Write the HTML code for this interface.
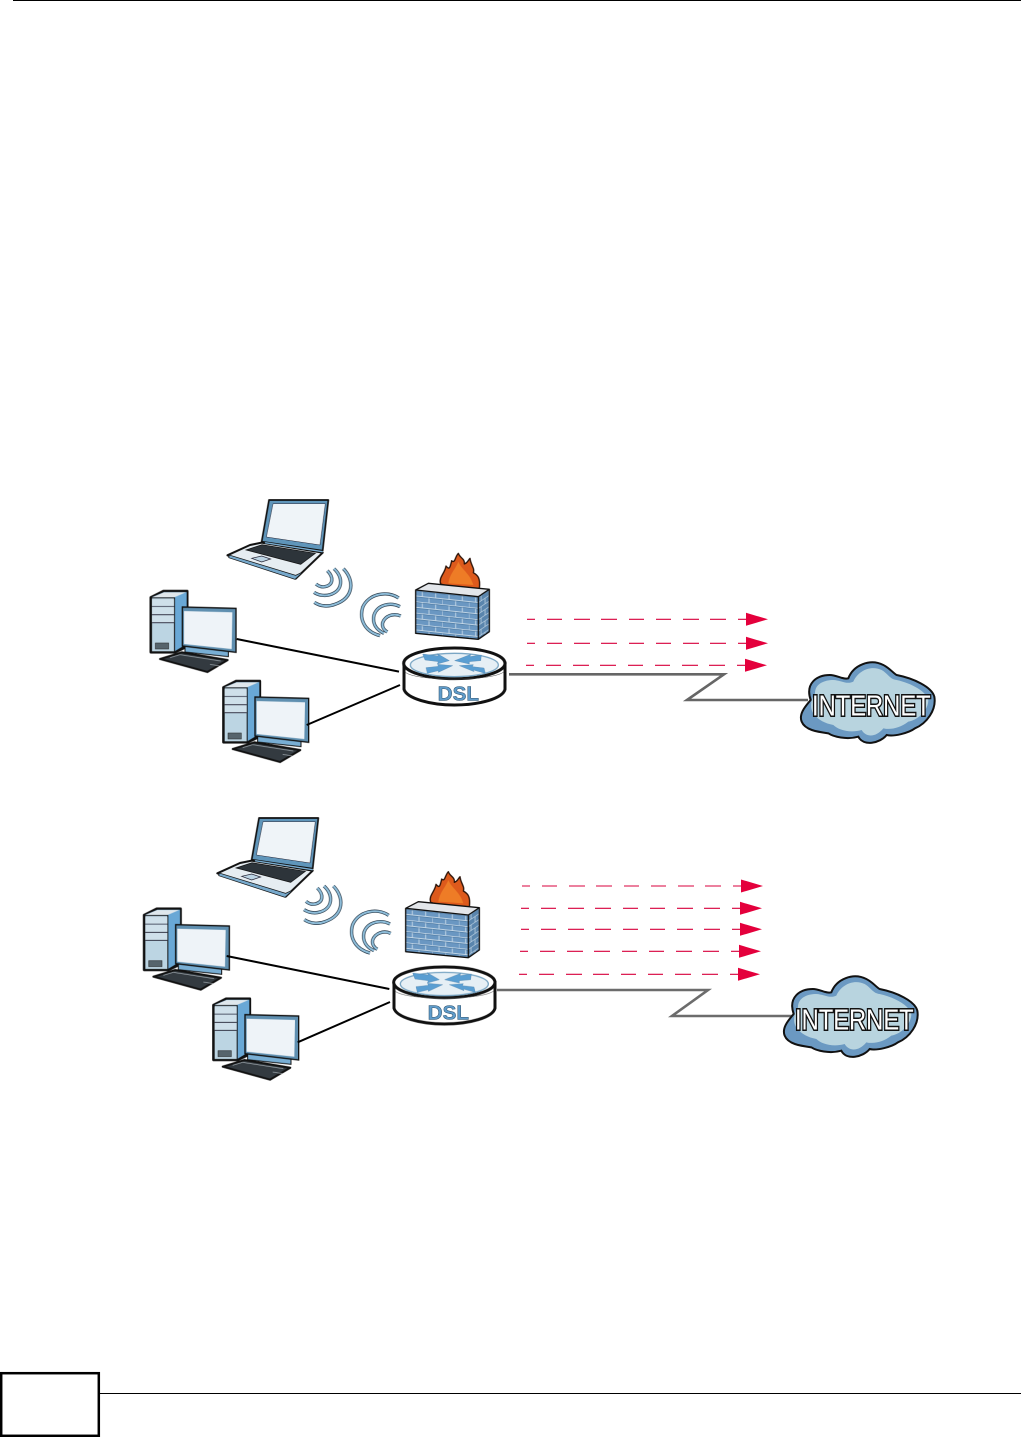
<!DOCTYPE html>
<html><head><meta charset="utf-8"><style>
html,body{margin:0;padding:0;background:#fff}
svg{display:block}
.soft{filter:blur(.45px)}
</style></head><body>
<svg xmlns="http://www.w3.org/2000/svg" width="1021" height="1437" viewBox="0 0 1021 1437" font-family="'Liberation Sans',sans-serif">
<defs>
<pattern id="bf" width="80" height="34" patternUnits="userSpaceOnUse" patternTransform="translate(857 300) skewY(6)">
<rect width="80" height="34" fill="#6a97c2"/>
<path d="M0 1H80M0 18H80M20 1V18M60 1V18M0 18V34M40 18V34" stroke="#cbdcea" stroke-width="2.6" fill="none"/>
<path d="M0 3.5H80M0 20.5H80" stroke="#3d6a92" stroke-width="1.3" fill="none"/>
</pattern>
<pattern id="bs" width="24" height="34" patternUnits="userSpaceOnUse" patternTransform="translate(1045 320) skewY(-34)">
<rect width="24" height="34" fill="#5a85ad"/>
<path d="M0 1H24M0 18H24M8 1V18M20 18V34" stroke="#bfd3e3" stroke-width="2.3" fill="none"/>
</pattern>
<g id="pc">
<path d="M62 322L100 303H172V470L135 487H62Z" fill="#111" stroke="#111" stroke-width="7" stroke-linejoin="round"/>
<path d="M65 322L102 306H170V355H160V468L135 483V322Z" fill="#69a8d6"/>
<path d="M66 322L102 307H168L133 322Z" fill="#dfe7ec"/>
<path d="M66 325H132V484H66Z" fill="#bcd5e3"/>
<path d="M66 349H132M66 374H132M66 398H132" stroke="#223" stroke-width="3"/>
<path d="M66 328H132V348H66ZM66 351H132V373H66ZM66 376H132V397H66Z" fill="#cfe0ea"/>
<rect x="76" y="459" width="40" height="18" fill="#56646c" stroke="#222" stroke-width="1.5"/>
<path d="M165 462L295 482V500L165 486Z" fill="#78aed4" stroke="#111" stroke-width="3"/>
<path d="M157 351L318 355V487L157 468Z" fill="#5f8fb0" stroke="#111" stroke-width="4"/>
<path d="M162 363L307 367L305 477L162 462Z" fill="#eef3f8"/>
<path d="M90 507L155 487L293 510L232 546Z" fill="#333a40" stroke="#111" stroke-width="6" stroke-linejoin="round"/>
<path d="M120 503L150 494L272 513M240 523L270 528" stroke="#cfd8de" stroke-width="1.5" fill="none"/>
</g>
<g id="laptop">
<path d="M417 30H595L578 182L395 155Z" fill="#5f95ba" stroke="#111" stroke-width="5" stroke-linejoin="round"/>
<path d="M429 41H586L570 165L409 141Z" fill="#eff4f8" stroke="#223" stroke-width="1.5"/>
<path d="M292 196L360 165L395 158L578 188L497 266Z" fill="#e6edf2" stroke="#111" stroke-width="6" stroke-linejoin="round"/>
<path d="M296 203L495 268L520 245L497 256L298 195Z" fill="#77a9cc" stroke="#111" stroke-width="2"/>
<path d="M348 180L396 164L556 190L512 223Z" fill="#2d343a" stroke="#111" stroke-width="2"/>
<path d="M365 205L395 198L422 207L395 216Z" fill="#bcd4e4" stroke="#223" stroke-width="2"/>
<path d="M405 158L578 185" stroke="#79acd0" stroke-width="4"/>
</g>
<g id="waves" fill="none" stroke-linecap="butt">
<g stroke="#2c3d4c" stroke-width="10">
<path d="M640 236C672 268 675 322 615 343C595 351 570 349 553 337"/>
<path d="M612 236C640 262 640 302 600 314C585 319 565 316 552 307"/>
<path d="M592 242C612 262 610 285 585 290C575 292 565 288 558 282"/>
<path d="M806 324C770 300 715 312 698 352C686 392 708 426 750 437"/>
<path d="M810 350C780 335 742 345 732 375C726 402 740 420 762 430"/>
<path d="M812 378C790 368 765 378 758 398C755 410 762 420 772 426"/>
</g>
<g stroke="#8dbcd8" stroke-width="6">
<path d="M640 236C672 268 675 322 615 343C595 351 570 349 553 337"/>
<path d="M612 236C640 262 640 302 600 314C585 319 565 316 552 307"/>
<path d="M592 242C612 262 610 285 585 290C575 292 565 288 558 282"/>
<path d="M806 324C770 300 715 312 698 352C686 392 708 426 750 437"/>
<path d="M810 350C780 335 742 345 732 375C726 402 740 420 762 430"/>
<path d="M812 378C790 368 765 378 758 398C755 410 762 420 772 426"/>
</g>
</g>
<g id="firewall">
<path d="M932 282C925 262 945 250 948 228C958 240 960 235 965 212C975 222 975 200 985 190C990 205 1005 205 1003 222C1012 220 1015 210 1020 205C1022 225 1035 235 1030 248C1042 255 1052 262 1048 296L960 290Z" fill="#dd5a1c" stroke="#2a1208" stroke-width="4" stroke-linejoin="round"/>
<path d="M955 280C960 250 975 240 985 215C995 240 1020 250 1030 285Z" fill="#ee7c26"/>
<path d="M857 300L895 280L1078 298L1045 320Z" fill="#e3e6ea"/>
<path d="M857 300L1045 320V448L857 430Z" fill="url(#bf)"/>
<path d="M1045 320L1078 298V425L1045 448Z" fill="url(#bs)"/>
<path d="M857 300L895 280L1078 298V425L1045 448L857 430ZM857 300L1045 320V448M1045 320L1078 298" fill="none" stroke="#111" stroke-width="4" stroke-linejoin="round"/>
</g>
<g id="routerbody">
<path d="M822 520V598C830 625 900 645 973 645C1050 645 1118 625 1125 598V520Z" fill="#fff" stroke="#111" stroke-width="9"/>
<ellipse cx="973" cy="520" rx="152" ry="46" fill="#fff" stroke="#111" stroke-width="9"/>
<path d="M824 545C850 575 1090 575 1122 545" fill="none" stroke="#444" stroke-width="1.5"/>
<ellipse cx="973" cy="525" rx="132" ry="35" fill="#e6eff5" stroke="#7aa6c4" stroke-width="4"/>
<path d="M878 492L925 498L922 491L958 512L922 522L925 515L885 510ZM1054 495L1020 500L1022 493L974 512L1018 522L1018 515L1052 512ZM888 533L925 529L923 523L968 527L925 547L925 542L892 550ZM1066 550L1030 540L1032 545L988 527L1030 524L1027 530L1062 534Z" fill="#5a9ed2" stroke="#4b7fa8" stroke-width="1"/>
</g>
<path id="cloud" d="M905 365C895 340 920 315 932 300C915 250 950 225 990 225C1010 225 1030 240 1045 235C1060 195 1110 175 1150 195C1170 205 1180 220 1190 225C1240 235 1295 260 1303 290C1310 330 1280 370 1245 385C1225 400 1180 410 1160 405C1140 430 1090 440 1075 410C1040 420 1000 410 985 400C950 395 915 390 905 365Z"/>
<path id="cloudi" d="M945 345C925 330 935 290 945 280C945 250 975 240 1000 240C1020 240 1040 255 1060 245C1075 210 1115 195 1145 210C1165 222 1170 238 1190 240C1235 250 1280 275 1285 300C1285 330 1255 360 1225 365C1200 385 1170 390 1150 385C1130 410 1100 415 1085 390C1050 400 1015 390 1000 375C975 370 955 360 945 345Z"/>
<g id="dashes">
<path d="M527 0H535M547 0H562M574 0H590M601 0H617M629 0H644M656 0H671M683 0H699M710 0H726M738 0H746" stroke="#d8003c" stroke-width="1.1" fill="none"/>
<path d="M746 -6.5L768 0L746 6.5Z" fill="#e4003c"/>
</g>
</defs>

<rect x="13" y="0" width="1008" height="1" fill="#000"/>

<!-- Diagram 1 -->
<g transform="translate(130 490) scale(.33333)">
<g class="soft">
<use href="#pc"/>
<use href="#pc" transform="translate(218 270)"/>
<use href="#laptop"/>
<use href="#waves"/>
<use href="#firewall"/>
<use href="#routerbody"/>
</g>
<text x="985" y="632" font-size="62" font-weight="bold" fill="#5f9ccb" stroke="#34566f" stroke-width="1.6" text-anchor="middle">DSL</text>
<path d="M320 447L807 545M530 705L810 585" stroke="#000" stroke-width="6" fill="none"/>
</g>
<path d="M509 674.3H724L687 700H808" fill="none" stroke="#666" stroke-width="2.6"/>
<use href="#dashes" transform="translate(0 619.3)"/>
<use href="#dashes" transform="translate(0 643.3)"/>
<use href="#dashes" transform="translate(-1 665.3)"/>
<g transform="translate(500 600) scale(.33333)">
<use href="#cloud" fill="#6b99c2" stroke="#111" stroke-width="6"/>
<use href="#cloudi" fill="#b8d4df"/>
<text x="936" y="346" font-size="85" textLength="356" lengthAdjust="spacingAndGlyphs" fill="#fff" stroke="#111" stroke-width="9" paint-order="stroke">INTERNET</text>
</g>

<!-- Diagram 2 -->
<g transform="translate(130 810) scale(.33333)">
<g class="soft">
<use href="#pc" transform="translate(-20 -7)"/>
<use href="#pc" transform="translate(188 263)"/>
<use href="#laptop" transform="translate(-30 -6)"/>
<use href="#waves" transform="translate(-30 -8)"/>
<use href="#firewall" transform="translate(-30 -5)"/>
<use href="#routerbody" transform="translate(-30 -3)"/>
</g>
<text x="955" y="629" font-size="62" font-weight="bold" fill="#5f9ccb" stroke="#34566f" stroke-width="1.6" text-anchor="middle">DSL</text>
<path d="M290 438L778 537M503 697L780 576" stroke="#000" stroke-width="6" fill="none"/>
</g>
<path d="M497 990H708L672 1016H793" fill="none" stroke="#6c6c6c" stroke-width="2.6"/>
<use href="#dashes" transform="translate(-5 886)"/>
<use href="#dashes" transform="translate(-6 908.3)"/>
<use href="#dashes" transform="translate(-6 929.3)"/>
<use href="#dashes" transform="translate(-7 951.3)"/>
<use href="#dashes" transform="translate(-8 974.3)"/>
<g transform="translate(483 914) scale(.33333)">
<use href="#cloud" fill="#6b99c2" stroke="#111" stroke-width="6"/>
<use href="#cloudi" fill="#b8d4df"/>
<text x="936" y="346" font-size="85" textLength="356" lengthAdjust="spacingAndGlyphs" fill="#fff" stroke="#111" stroke-width="9" paint-order="stroke">INTERNET</text>
</g>

<!-- Footer -->
<rect x="1.2" y="1373.2" width="97.6" height="62.6" fill="#fff" stroke="#000" stroke-width="2.5"/>
<rect x="100" y="1393" width="921" height="1" fill="#000"/>
</svg>
</body></html>
